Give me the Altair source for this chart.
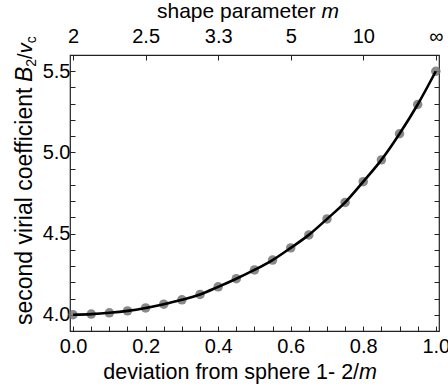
import altair as alt
import pandas as pd

# ---- data ----
x_vals = [0.0, 0.05, 0.1, 0.15, 0.2, 0.25, 0.3, 0.35, 0.4, 0.45, 0.5,
          0.55, 0.6, 0.65, 0.7, 0.75, 0.8, 0.85, 0.9, 0.95, 1.0]
b2_vals = [4.000, 4.004, 4.012, 4.024, 4.042, 4.065, 4.092, 4.125, 4.172, 4.222, 4.276,
           4.337, 4.412, 4.492, 4.590, 4.692, 4.820, 4.954, 5.115, 5.295, 5.500]

top_tick_pos = [0.0, 0.2, 0.4, 0.6, 0.8, 1.0]
top_tick_labels = ["2", "2.5", "3.3", "5", "10", "\u221e"]
bottom_ticks = [0.0, 0.05, 0.1, 0.15, 0.2, 0.25, 0.3, 0.35, 0.4, 0.45, 0.5,
                0.55, 0.6, 0.65, 0.7, 0.75, 0.8, 0.85, 0.9, 0.95, 1.0]
y_ticks = [4.0, 4.1, 4.2, 4.3, 4.4, 4.5, 4.6, 4.7, 4.8, 4.9, 5.0,
           5.1, 5.2, 5.3, 5.4, 5.5]

FONT = "Liberation Sans, Arial, sans-serif"
TICK_FS = 20
TITLE_FS = 21

df = pd.DataFrame({"x": x_vals, "b2": b2_vals})

xscale = alt.Scale(domain=[-0.0085, 1.0088], nice=False, zero=False)
yscale = alt.Scale(domain=[3.9, 5.6], nice=False, zero=False)

top_expr = "''"
for p, l in reversed(list(zip(top_tick_pos, top_tick_labels))):
    top_expr = f"abs(datum.value - {p}) < 0.01 ? '{l}' : ({top_expr})"

common = dict(grid=False, domain=False, tickColor="#222", tickWidth=1,
              tickSize={"expr": "-5"}, labelFont=FONT, labelFontSize=TICK_FS,
              labelColor="black", labelFlush=False, labelOverlap=False, title=None)

ax_bottom = alt.Axis(orient="bottom", values=bottom_ticks,
                     labelExpr="abs(datum.value*5 - round(datum.value*5)) < 1e-6 ? format(datum.value, '.1f') : ''",
                     labelPadding=10, **common)
ax_left = alt.Axis(orient="left", values=y_ticks,
                   labelExpr="abs(datum.value*2 - round(datum.value*2)) < 1e-6 ? format(datum.value, '.1f') : ''",
                   labelPadding=5, **common)
ax_top = alt.Axis(orient="top", values=top_tick_pos, labelExpr=top_expr,
                  labelPadding=14, **common)
ax_right = alt.Axis(orient="right", values=y_ticks, labels=False, **common)

points = alt.Chart(df).mark_circle(size=90, color="#767676", opacity=0.85).encode(
    x=alt.X("x:Q", scale=xscale, axis=ax_top),
    y=alt.Y("b2:Q", scale=yscale, axis=ax_right),
)
line = alt.Chart(df).mark_line(color="black", strokeWidth=2.6, interpolate="monotone").encode(
    x=alt.X("x:Q", scale=xscale, axis=ax_bottom),
    y=alt.Y("b2:Q", scale=yscale, axis=ax_left),
)


def txt(s, x, y, size, italic=False, angle=0, align="left"):
    kw = dict(text=s, font=FONT, fontSize=size, color="black", align=align,
              baseline="alphabetic", angle=angle)
    if italic:
        kw["fontStyle"] = "italic"
    return alt.Chart(pd.DataFrame({"t": [s]})).mark_text(**kw).encode(
        x=alt.value(x), y=alt.value(y))


texts = [
    # top title
    txt("shape parameter ", 87, -37, TITLE_FS),
    txt("m", 251.6, -37, TITLE_FS, italic=True),
    # bottom title
    txt("deviation from sphere 1- 2/", 289.1, 324, 21.5, align="right"),
    txt("m", 289.1, 324, 21.5, italic=True),
    # y title (rotated)
    txt("second virial coefficient ", -38.5, 270, 23, angle=270),
    txt("B", -38.5, 27, 23, italic=True, angle=270),
    txt("2", -34.5, 11.7, 14, angle=270),
    txt("/", -38.5, 3.9, 20, angle=270),
    txt("v", -38.5, -1.7, 20, italic=True, angle=270),
    txt("c", -34.5, -11.7, 14, angle=270),
]

chart = alt.layer(points, line, *texts).resolve_axis(
    x="independent", y="independent"
).properties(
    width=369, height=276,
    padding={"left": 70, "top": 55, "right": 9, "bottom": 57},
    autosize="none",
).configure_view(stroke="#222", strokeWidth=1.2)

chart.save("out.html", embed_options={"renderer": "svg", "actions": False})
